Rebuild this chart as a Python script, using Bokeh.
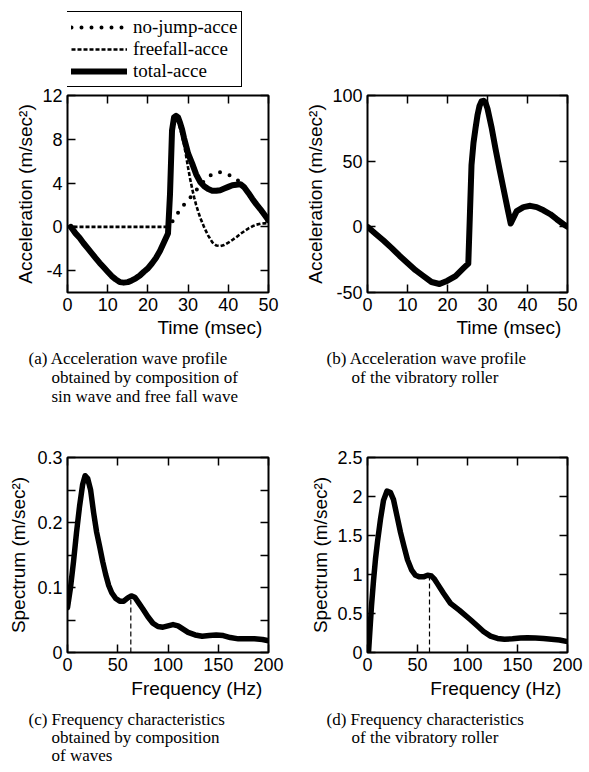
from bokeh.plotting import figure
from bokeh.models import (Range1d, LinearAxis, FixedTicker, Legend, LegendItem, Title,
                          CustomJSTickFormatter)
from bokeh.layouts import column, row
from bokeh.embed import file_html
from bokeh.resources import INLINE

# ---------------- data ----------------
# (a) acceleration wave profile, composition of sin wave and free fall wave
a_total_t = [0.8, 2, 3, 4, 5, 6, 7, 8, 9, 10, 11, 12, 13, 14, 15, 16, 17, 18, 19, 20,
             21, 22, 23, 24, 25, 25.5, 26, 26.5, 27, 27.5, 28, 28.5, 29, 29.5, 30,
             31, 32, 33, 34, 35, 36, 37, 38, 39, 40, 41, 42, 43, 44, 45, 46, 47, 48, 49, 50]
a_total_y = [0, -0.6, -1.0, -1.5, -1.95, -2.4, -2.85, -3.3, -3.7, -4.1, -4.5, -4.8, -5.05,
             -5.1, -5.05, -4.9, -4.7, -4.45, -4.1, -3.8, -3.35, -2.85, -2.2, -1.4, -0.6,
             3.0, 8.8, 10.0, 10.15, 10.0, 9.5, 8.9, 8.1, 7.4, 6.7, 5.8, 4.8, 4.1, 3.7,
             3.45, 3.3, 3.3, 3.35, 3.5, 3.65, 3.8, 3.85, 3.9, 3.6, 3.1, 2.55, 2.05, 1.6,
             1.1, 0.6]
a_free_t = [0, 25, 25.5, 26, 26.5, 27, 27.5, 28, 28.5, 29, 29.5, 30, 30.5, 31, 31.5, 32,
            32.5, 33, 34, 35, 36, 37, 38, 39, 40, 41, 42, 43, 44, 45, 46, 47, 48, 49, 50]
a_free_y = [0, 0, 3.0, 9.4, 10.1, 10.0, 9.6, 9.0, 8.3, 7.5, 6.5, 5.4, 4.4, 3.5, 2.7, 2.0,
            1.4, 0.85, -0.05, -0.8, -1.4, -1.7, -1.75, -1.65, -1.45, -1.2, -0.95, -0.65,
            -0.4, -0.15, 0.05, 0.2, 0.28, 0.32, 0.35]
a_nojump_t = [25, 26.4, 28.5, 30.6, 32.6, 34.7, 36.5, 38, 40.5, 43, 45, 47, 49, 50]
a_nojump_y = [-0.3, 0.7, 1.8, 2.7, 3.6, 4.5, 4.9, 5.0, 4.7, 4.1, 3.2, 2.1, 0.9, 0.4]
a_xticks = [0, 10, 20, 30, 40, 50]
a_xlabels = ["0", "10", "20", "30", "40", "50"]
a_yticks = [-4, 0, 4, 8, 12]
a_ylabels = ["-4", "0", "4", "8", "12"]

# (b) acceleration wave profile of the vibratory roller
b_t = [0, 2, 4, 6, 8, 10, 12, 14, 16, 18, 20, 22, 24, 25.2, 25.5, 26, 26.5, 27, 27.5, 28,
       28.5, 29, 29.5, 30, 30.5, 31, 32, 33, 34, 35, 35.8, 36.5, 37.3, 39, 40.7, 42.3, 44,
       45.7, 47.3, 49, 50]
b_y = [0, -5.2, -10.4, -16, -22, -27.5, -33, -37.5, -42, -43.5, -41, -37.5, -31.5, -28, 0,
       47, 64, 75, 85, 92, 95.5, 96, 94.5, 90, 83, 76, 59.5, 44, 29, 14, 2.5, 7, 12, 15, 16,
       15, 12.6, 9.6, 5.8, 2, 0]
b_yticks = [-50, 0, 50, 100]
b_ylabels = ["-50", "0", "50", "100"]

# (c) frequency characteristics, composition of waves
c_f = [0, 3, 6, 9, 12, 15, 17.5, 20, 23, 26, 29, 32, 35, 38, 41, 44, 48, 52, 56, 60, 63.5,
       67, 71, 75, 80, 85, 90, 95, 100, 105, 110, 115, 120, 127, 134, 141, 148, 155, 162,
       170, 178, 186, 194, 200]
c_s = [0.069, 0.10, 0.14, 0.185, 0.225, 0.258, 0.272, 0.268, 0.25, 0.215, 0.185, 0.163,
       0.14, 0.12, 0.103, 0.092, 0.083, 0.079, 0.079, 0.084, 0.087, 0.085, 0.076, 0.067,
       0.055, 0.045, 0.040, 0.039, 0.041, 0.043, 0.041, 0.036, 0.031, 0.027, 0.025, 0.026,
       0.027, 0.026, 0.023, 0.021, 0.021, 0.021, 0.020, 0.018]
c_mark_f = [63]
c_mark_s = [0.087]
c_yticks = [0, 0.1, 0.2, 0.3]
c_ylabels = ["0", "0.1", "0.2", "0.3"]
c_yminor = [0.05, 0.15, 0.25]

# (d) frequency characteristics of the vibratory roller
d_f = [1, 2.5, 4, 6, 8, 10, 13, 16, 19.5, 23, 26, 29.5, 33, 36.5, 40, 44, 48, 52, 56, 60,
       64, 67, 70, 76, 83, 92, 103, 110, 116, 123, 130, 137, 145, 153, 160, 168, 176, 184,
       192, 200]
d_s = [0, 0.3, 0.6, 0.92, 1.2, 1.42, 1.71, 1.95, 2.07, 2.05, 1.96, 1.75, 1.54, 1.36, 1.19,
       1.06, 0.99, 0.97, 0.97, 0.99, 0.98, 0.94, 0.88, 0.76, 0.63, 0.54, 0.42, 0.34, 0.27,
       0.21, 0.18, 0.17, 0.175, 0.185, 0.19, 0.185, 0.18, 0.17, 0.16, 0.14]
d_mark_f = [62]
d_mark_s = [0.99]
d_yticks = [0, 0.5, 1, 1.5, 2, 2.5]
d_ylabels = ["0", "0.5", "1", "1.5", "2", "2.5"]

f_xticks = [0, 50, 100, 150, 200]
f_xlabels = ["0", "50", "100", "150", "200"]

legend_labels = ["no-jump-acce", "freefall-acce", "total-acce"]
caption_a = ["(a) Acceleration wave profile", "obtained by composition of",
             "sin wave and free fall wave"]
caption_b = ["(b) Acceleration wave profile", "of the vibratory roller"]
caption_c = ["(c) Frequency characteristics", "obtained by composition", "of waves"]
caption_d = ["(d) Frequency characteristics", "of the vibratory roller"]

SANS = "Liberation Sans"
SERIF = "Liberation Serif"

# line styles shared by the plot (a) and its legend
ST_TOTAL = dict(line_color="black", line_width=6, line_join="round", line_cap="round")
ST_FREE = dict(line_color="black", line_width=2.6, line_dash="4 2")
ST_NOJUMP = dict(line_color="black", line_width=4, line_dash="0 10", line_cap="round")


def make_fig(w, h, bl, br, bt, bb, xr, yr, xticks, xlabels, yticks, ylabels,
             ylabel, yminor=None, ystand=3):
    p = figure(width=w, height=h, x_range=Range1d(*xr), y_range=Range1d(*yr),
               output_backend="svg", toolbar_location=None,
               min_border_left=bl, min_border_right=br, min_border_top=bt,
               min_border_bottom=bb, x_axis_type=None, y_axis_type=None)
    p.title.visible = False
    p.outline_line_color = "black"
    p.outline_line_width = 2
    p.outline_line_alpha = 1
    p.background_fill_color = "white"
    p.border_fill_color = "white"
    xt = FixedTicker(ticks=xticks, minor_ticks=[])
    yt = FixedTicker(ticks=yticks, minor_ticks=yminor or [])
    for side, tk, ticks, labels in [("below", xt, xticks, xlabels), ("above", xt, None, None),
                                    ("left", yt, yticks, ylabels), ("right", yt, None, None)]:
        ax = LinearAxis(ticker=tk)
        ax.axis_line_color = None
        ax.major_tick_in = 8
        ax.major_tick_out = 0
        ax.major_tick_line_width = 1.5
        ax.major_tick_line_color = "black"
        ax.minor_tick_in = 8
        ax.minor_tick_out = 0
        ax.minor_tick_line_width = 1.5
        ax.minor_tick_line_color = "black"
        ax.major_label_text_font = SANS
        ax.major_label_text_font_size = "18px"
        ax.major_label_text_color = "black"
        ax.major_label_standoff = 5
        if labels is None:
            ax.formatter = CustomJSTickFormatter(code="return ''")
            ax.major_label_standoff = 0
            ax.major_label_text_font_size = "0px"
        else:
            ax.major_label_overrides = {t: s for t, s in zip(ticks, labels)}
        if side == "left":
            ax.axis_label = ylabel
            ax.axis_label_text_font = SANS
            ax.axis_label_text_font_size = "19px"
            ax.axis_label_text_font_style = "normal"
            ax.axis_label_text_color = "black"
            ax.axis_label_standoff = ystand
        p.add_layout(ax, side)
    return p


def side_text(p, side, txt, align, offset, standoff, size, font):
    t = Title(text=txt, align=align, offset=offset, standoff=standoff,
              text_font=font, text_font_size=size, text_font_style="normal",
              text_color="black")
    p.add_layout(t, side)


def add_below_texts(p, xlabel, x_standoff, caption, first_x, rest_x, frame_left, cap_so):
    side_text(p, "below", xlabel, "right", 1, x_standoff, "19px", SANS)
    side_text(p, "below", " ", "left", 0, 6, "1px", SANS)  # small gap
    for i, s in enumerate(caption):
        side_text(p, "below", s, "left", (first_x if i == 0 else rest_x) - frame_left,
                  cap_so, "17px", SERIF)


FA_L, FB_L = 67, 367

# ---------------- legend strip above (a) ----------------
# the key renderers reuse panel (a)'s data; the strip's y-range lies far above it,
# so only the legend box shows here
pl = figure(width=298, height=87, x_range=Range1d(0, 50), y_range=Range1d(1000, 1001),
            output_backend="svg", toolbar_location=None, x_axis_type=None,
            y_axis_type=None, min_border=0, outline_line_color=None)
pl.title.visible = False
pl.background_fill_color = "white"
pl.border_fill_color = "white"
k_nj = pl.line(a_nojump_t, a_nojump_y, **ST_NOJUMP)
k_ff = pl.line(a_free_t, a_free_y, **ST_FREE)
k_tot = pl.line(a_total_t, a_total_y, **ST_TOTAL)
leg = Legend(items=[LegendItem(label=legend_labels[0], renderers=[k_nj]),
                    LegendItem(label=legend_labels[1], renderers=[k_ff]),
                    LegendItem(label=legend_labels[2], renderers=[k_tot])],
             location=(-1, 0))
leg.label_text_font = SERIF
leg.label_text_font_size = "19px"
leg.label_text_color = "black"
leg.border_line_color = "black"
leg.border_line_width = 1.5
leg.border_line_alpha = 1
leg.background_fill_alpha = 1
leg.glyph_width = 56
leg.glyph_height = 20
leg.label_height = 20
leg.spacing = 0
leg.padding = 4
leg.label_standoff = 6
leg.margin = 0
pl.add_layout(leg)

# ---------------- (a) ----------------
pa = make_fig(298, 321, 67, 30, 8, 116, (0, 50), (-6, 12), a_xticks, a_xlabels,
              a_yticks, a_ylabels, "Acceleration (m/sec²)")
pa.line(a_total_t, a_total_y, **ST_TOTAL)
pa.line(a_free_t, a_free_y, **ST_FREE)
pa.line(a_nojump_t, a_nojump_y, **ST_NOJUMP)
add_below_texts(pa, "Time  (msec)", 2, caption_a, 28, 51, FA_L, -2)

# ---------------- (b) ----------------
pb = make_fig(291, 408, 69, 22, 95, 116, (0, 50), (-50, 100), a_xticks, a_xlabels,
              b_yticks, b_ylabels, "Acceleration (m/sec²)")
pb.line(b_t, b_y, **ST_TOTAL)
add_below_texts(pb, "Time  (msec)", 2, caption_b, 326, 351, FB_L, -2)

# ---------------- (c) ----------------
pc = make_fig(298, 364, 67, 30, 49, 120, (0, 200), (0, 0.3), f_xticks, f_xlabels,
              c_yticks, c_ylabels, "Spectrum (m/sec²)", yminor=c_yminor, ystand=5)
pc.line(c_f, c_s, line_color="black", line_width=5.5, line_join="round", line_cap="round")
pc.segment(x0=c_mark_f, y0=[0] * len(c_mark_f), x1=c_mark_f, y1=c_mark_s,
           line_color="black", line_width=1.2, line_dash="5 3")
add_below_texts(pc, "Frequency  (Hz)", 4, caption_c, 28, 51, FA_L, -3)

# ---------------- (d) ----------------
pd_ = make_fig(291, 364, 69, 22, 49, 120, (0, 200), (0, 2.5), f_xticks, f_xlabels,
               d_yticks, d_ylabels, "Spectrum (m/sec²)")
pd_.line(d_f, d_s, line_color="black", line_width=5.5, line_join="round", line_cap="round")
pd_.segment(x0=d_mark_f, y0=[0] * len(d_mark_f), x1=d_mark_f, y1=d_mark_s,
            line_color="black", line_width=1.2, line_dash="5 3")
add_below_texts(pd_, "Frequency  (Hz)", 4, caption_d, 326, 351, FB_L, -3)

layout = column(row(column(pl, pa), pb), row(pc, pd_))
open("out.html", "w").write(file_html(layout, INLINE, title="Acceleration wave profiles"))
